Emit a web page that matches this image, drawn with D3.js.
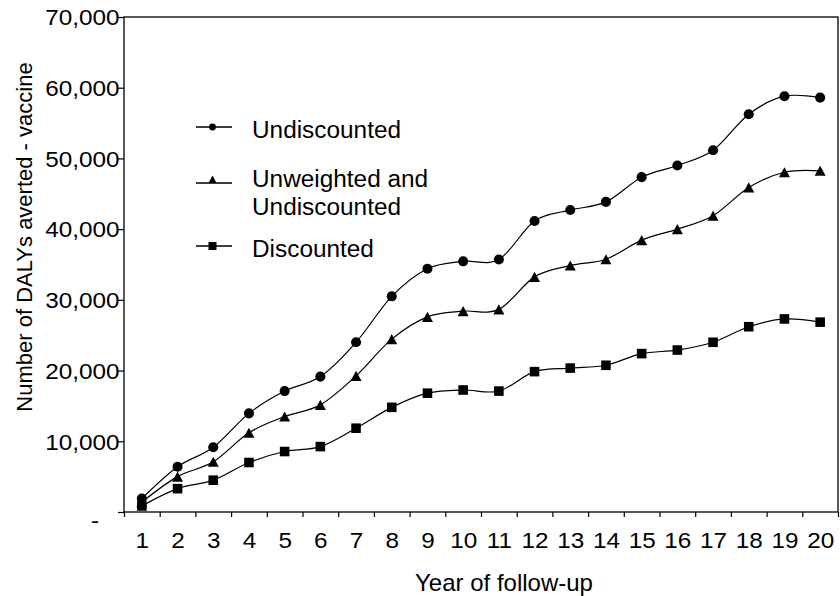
<!DOCTYPE html>
<html>
<head>
<meta charset="utf-8">
<script src="https://cdn.jsdelivr.net/npm/d3@7"></script>
<style>
    body { margin: 0; background: #fff; }
    svg { display: block; font-family: "Liberation Sans", Arial, sans-serif; }
</style>
</head>
<body>
<script>
(function () {

    //chart data
    var years = d3.range(1, 21);
    var undiscounted = [1900, 6400, 9150, 13950, 17100, 19150, 24000, 30500, 34400, 35450,
        35700, 41150, 42700, 43850, 47350, 49000, 51150, 56250, 58800, 58600];
    var unweighted = [1400, 5000, 7100, 11200, 13500, 15150, 19250, 24450, 27600, 28400,
        28650, 33250, 34850, 35750, 38450, 40000, 41900, 45900, 48050, 48250];
    var discounted = [850, 3300, 4500, 7000, 8550, 9250, 11850, 14800, 16800, 17250,
        17100, 19850, 20350, 20750, 22400, 22900, 24000, 26200, 27300, 26850];
    var yTicks = [0, 10000, 20000, 30000, 40000, 50000, 60000, 70000];

    var width = 840,
        height = 596,
        left = 124,
        right = 838,
        top = 17,
        bottom = 512;

    var svg = d3.select("body")
        .append("svg")
        .attr("width", width)
        .attr("height", height);

    var x = d3.scaleLinear()
        .domain([0.5, 20.5])
        .range([left, right]);

    var y = d3.scaleLinear()
        .domain([0, 70000])
        .range([bottom, top]);

    //triangle centred on its bounding box, like the spreadsheet marker
    var triangle = {
        draw: function (context, size) {
            var w = Math.sqrt(size), h = w * 0.92;
            context.moveTo(0, -h / 2);
            context.lineTo(w / 2, h / 2);
            context.lineTo(-w / 2, h / 2);
            context.closePath();
        }
    };

    var series = [
        {name: ["Undiscounted"], values: undiscounted, symbol: d3.symbolCircle, size: 80, legendSize: 36, legendDy: 0},
        {name: ["Unweighted and", "Undiscounted"], values: unweighted, symbol: triangle, size: 121, legendSize: 64, legendDy: -3.7},
        {name: ["Discounted"], values: discounted, symbol: d3.symbolSquare, size: 92, legendSize: 64, legendDy: 0}
    ];

    //plot frame
    svg.append("rect")
        .attr("x", left)
        .attr("y", top)
        .attr("width", right - left)
        .attr("height", bottom - top)
        .attr("fill", "none")
        .attr("stroke", "#000")
        .attr("stroke-width", 1.3);

    //y axis
    var yAxis = d3.axisLeft(y)
        .tickValues(yTicks)
        .tickSize(6)
        .tickFormat(function (d) { return d === 0 ? "-" : d3.format(",")(d); });

    var yg = svg.append("g")
        .attr("transform", "translate(" + left + ",0)")
        .call(yAxis);
    yg.select(".domain").remove();
    yg.selectAll("line").attr("stroke", "#000").attr("stroke-width", 1.2);
    yg.selectAll("text")
        .attr("x", 0)
        .attr("dy", "0.36em")
        .attr("fill", "#000")
        .style("font-size", "21.5px")
        .attr("transform", function (d) {
            return d === 0 ? "translate(-25,8) scale(1.13,1)" : "translate(-4.5,0) scale(1.13,1)";
        });

    //x axis: tick marks on the category edges, labels in the middle
    var xEdges = d3.axisBottom(x)
        .tickValues(d3.range(0.5, 21, 1))
        .tickSize(5)
        .tickFormat("");
    var xe = svg.append("g")
        .attr("transform", "translate(0," + bottom + ")")
        .call(xEdges);
    xe.select(".domain").remove();
    xe.selectAll("line").attr("stroke", "#000").attr("stroke-width", 1.2);

    var xLabels = d3.axisBottom(x)
        .tickValues(years)
        .tickSize(0)
        .tickPadding(20.5);
    var xl = svg.append("g")
        .attr("transform", "translate(0," + bottom + ")")
        .call(xLabels);
    xl.select(".domain").remove();
    xl.selectAll("text")
        .attr("fill", "#000")
        .style("font-size", "21.5px")
        .attr("transform", "scale(1.13,1)");

    //axis titles
    svg.append("text")
        .attr("x", 504)
        .attr("y", 591)
        .attr("text-anchor", "middle")
        .style("font-size", "24px")
        .text("Year of follow-up");

    svg.append("text")
        .attr("transform", "translate(32,237) rotate(-90)")
        .attr("text-anchor", "middle")
        .style("font-size", "22px")
        .text("Number of DALYs averted - vaccine");

    //smoothed lines
    var line = d3.line()
        .x(function (d, i) { return x(years[i]); })
        .y(function (d) { return y(d); })
        .curve(d3.curveCardinal.tension(0));

    series.forEach(function (s) {
        svg.append("path")
            .datum(s.values)
            .attr("d", line)
            .attr("fill", "none")
            .attr("stroke", "#000")
            .attr("stroke-width", 1.2);

        svg.selectAll(null)
            .data(s.values)
            .enter()
            .append("path")
            .attr("transform", function (d, i) {
                return "translate(" + x(years[i]) + "," + y(d) + ")";
            })
            .attr("d", d3.symbol().type(s.symbol).size(s.size))
            .attr("fill", "#000");
    });

    //legend
    var legendRows = [127, 183, 246];
    var legend = svg.append("g").attr("class", "legend");

    series.forEach(function (s, i) {
        var g = legend.append("g")
            .attr("transform", "translate(0," + legendRows[i] + ")");
        g.append("line")
            .attr("x1", 196)
            .attr("x2", 232)
            .attr("stroke", "#000")
            .attr("stroke-width", 1.3);
        g.append("path")
            .attr("transform", "translate(212.5," + s.legendDy + ")")
            .attr("d", d3.symbol().type(s.symbol).size(s.legendSize))
            .attr("fill", "#000");
        var t = g.append("text")
            .attr("transform", "translate(252,0) scale(1.06,1)")
            .style("font-size", "23px");
        s.name.forEach(function (n, k) {
            t.append("tspan")
                .attr("x", 0)
                .attr("y", (i === 1 ? 4 : 11) + k * 28.3)
                .text(n);
        });
    });

})();
</script>
</body>
</html>
